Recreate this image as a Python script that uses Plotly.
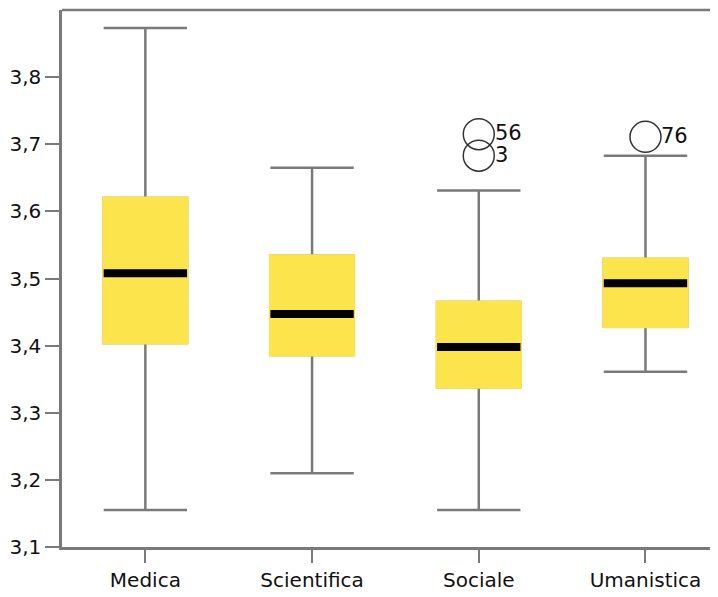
import plotly.graph_objects as go

categories = ["Medica", "Scientifica", "Sociale", "Umanistica"]
lower_whisker = [3.155, 3.210, 3.155, 3.361]
q1_values = [3.404, 3.386, 3.338, 3.428]
median_values = [3.508, 3.447, 3.398, 3.493]
q3_values = [3.620, 3.534, 3.465, 3.529]
upper_whisker = [3.873, 3.665, 3.631, 3.683]

outlier_category = ["Sociale", "Sociale", "Umanistica"]
outlier_values = [3.715, 3.683, 3.711]
outlier_labels = ["56", "3", "76"]

y_ticks = [3.1, 3.2, 3.3, 3.4, 3.5, 3.6, 3.7, 3.8]

YELLOW = "#FCE44D"
GRAY = "#7a7a7a"
TEXT = "#111111"
FONT = "DejaVu Sans"

fig = go.Figure()

# whiskers (with gray caps)
fig.add_trace(go.Box(
    x=categories, q1=q1_values, median=median_values, q3=q3_values,
    lowerfence=lower_whisker, upperfence=upper_whisker,
    width=0.5, whiskerwidth=1, fillcolor=YELLOW,
    line=dict(color=GRAY, width=2.5), boxpoints=False, hoverinfo="skip",
    showlegend=False,
))
# yellow box covering the outline
fig.add_trace(go.Box(
    x=categories, q1=q1_values, median=median_values, q3=q3_values,
    lowerfence=q1_values, upperfence=q3_values,
    width=0.5, whiskerwidth=0, fillcolor=YELLOW,
    line=dict(color=YELLOW, width=3), boxpoints=False, hoverinfo="skip",
    showlegend=False,
))
# thick black median
fig.add_trace(go.Box(
    x=categories, q1=median_values, median=median_values, q3=median_values,
    lowerfence=median_values, upperfence=median_values,
    width=0.5, whiskerwidth=0, fillcolor="black",
    line=dict(color="black", width=8), boxpoints=False, hoverinfo="skip",
    showlegend=False,
))
# outliers
fig.add_trace(go.Scatter(
    x=outlier_category, y=outlier_values, mode="markers",
    marker=dict(symbol="circle-open", size=31, color="#333333",
                line=dict(width=1.5, color="#333333")),
    hoverinfo="skip", showlegend=False, cliponaxis=False,
))

annotations = [
    dict(x=c, y=v, text=t, xref="x", yref="y", showarrow=False,
         xanchor="left", yanchor="middle", xshift=14, yshift=1,
         font=dict(family=FONT, size=21, color=TEXT))
    for c, v, t in zip(outlier_category, outlier_values, outlier_labels)
]

fig.update_layout(
    width=710, height=589,
    margin=dict(l=54, r=0, t=2, b=50),
    paper_bgcolor="white", plot_bgcolor="white",
    separators=", ",
    font=dict(family=FONT, size=20, color=TEXT),
    boxmode="overlay",
    annotations=annotations,
    xaxis=dict(
        type="category", categoryorder="array", categoryarray=categories,
        range=[-0.5, 3.435], showgrid=False, zeroline=False,
        showline=True, linecolor=GRAY, linewidth=2.5,
        ticks="outside", ticklen=13, tickwidth=2, tickcolor=GRAY,
        tickfont=dict(family=FONT, size=20, color=TEXT),
    ),
    yaxis=dict(
        range=[3.1, 3.9], tickvals=y_ticks, tickformat=".1f",
        showgrid=False, zeroline=False,
        showline=True, linecolor=GRAY, linewidth=2.5,
        ticks="outside", ticklen=14, tickwidth=2, tickcolor=GRAY,
        tickfont=dict(family=FONT, size=20, color=TEXT),
    ),
    shapes=[dict(type="line", xref="paper", yref="paper", x0=0, x1=1, y0=1, y1=1,
                 line=dict(color=GRAY, width=2.5))],
)

fig.write_html("out.html")
